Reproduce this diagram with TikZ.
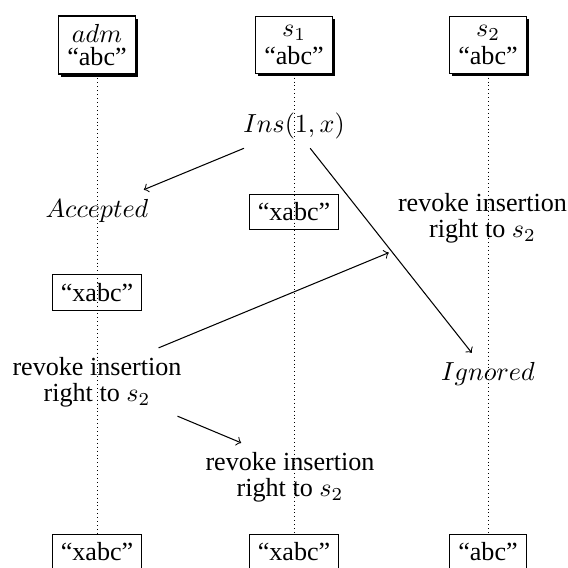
\documentclass[tikz,border=0pt]{standalone}
\usepackage{fontspec}
\setmainfont{Liberation Serif}
\usetikzlibrary{shadows}

\tikzset{
    proc/.style={draw, fill=white, align=center,
        drop shadow={shadow xshift=1pt, shadow yshift=-1pt, opacity=1, fill=black}},
    val/.style={draw},
    life/.style={line width=0.3pt, dash pattern=on 0.3pt off 1.2pt},
    note/.style={align=center}
}

\begin{document}
\begin{tikzpicture}[x=0.3829pt, y=-0.3829pt]
        \useasboundingbox (0,0) rectangle (567,568);

        % processos
        \node (adm) [proc] at (97, 45) {$adm$\\[-3.5pt]``abc''};
        \node (s1) [proc] at (294, 45) {$s_1$\\[-1.5pt]``abc''};
        \node (s2) [proc] at (488, 45) {$s_2$\\[-1.5pt]``abc''};

        % estados finais
        \node (admEnd) [val] at (97, 552) {``xabc''};
        \node (s1End) [val] at (294, 552) {``xabc''};
        \node (s2End) [val] at (488, 552) {``abc''};

        \draw[life] (adm) -- (admEnd);
        \draw[life] (s1) -- (s1End);
        \draw[life] (s2) -- (s2End);

        \node (ins) at (294, 126) {$Ins(1,x)$};
        \node (acc) at (97, 210.5) {$Accepted$};
        \node (s1Val) [val] at (294, 212) {``xabc''};
        \node (revR) [note] at (482.5, 218.5) {revoke insertion\\[-2pt]right to $s_2$};
        \node (admVal) [val] at (97, 292.5) {``xabc''};
        \node (revL) [note] at (97, 382) {revoke insertion\\[-2pt]right to $s_2$};
        \node (ign) at (488, 373.6) {$Ignored$};
        \node (revB) [note] at (290, 477) {revoke insertion\\[-2pt]right to $s_2$};

        \draw[->] (ins.204) -- (acc.24);
        \draw[->] (ins.-54) -- (ign.128);
        \draw[->] (revL.29) -- (revR.south west);
        \draw[->] (revL.-23) -- (revB.145);

    \end{tikzpicture}
\end{document}
